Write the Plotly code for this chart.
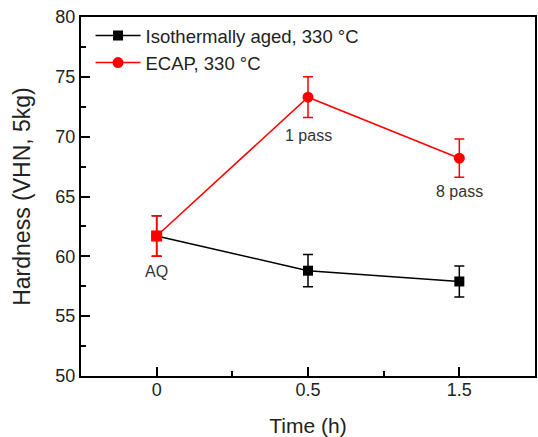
import plotly.graph_objects as go

time_labels = ["0", "0.5", "1.5"]
aged_hv = [61.7, 58.8, 57.9]
aged_err = [1.7, 1.35, 1.3]
ecap_hv = [61.7, 73.3, 68.2]
ecap_err = [1.7, 1.7, 1.6]
point_labels = ["AQ", "1 pass", "8 pass"]
label_shifts = [-36, -38, -33]

xpos = list(range(len(time_labels)))
RED = "#ff0000"
FONT = "Liberation Sans, Arial, sans-serif"

fig = go.Figure()
fig.add_trace(go.Scatter(
    x=xpos, y=aged_hv, mode="lines+markers", name="Isothermally aged, 330 °C",
    line=dict(color="black", width=1.5),
    marker=dict(symbol="square", size=10, color="black"),
    error_y=dict(type="data", array=aged_err, color="black", thickness=1.5, width=5),
))
fig.add_trace(go.Scatter(
    x=xpos, y=ecap_hv, mode="lines+markers", name="ECAP, 330 °C",
    line=dict(color=RED, width=1.5),
    marker=dict(symbol="circle", size=11, color=RED),
    error_y=dict(type="data", array=ecap_err, color=RED, thickness=1.5, width=5),
))
fig.add_trace(go.Scatter(
    x=xpos[:1], y=ecap_hv[:1], mode="markers", showlegend=False,
    marker=dict(symbol="square", size=11, color=RED),
))

for i, (t, s) in enumerate(zip(point_labels, label_shifts)):
    fig.add_annotation(x=xpos[i], y=ecap_hv[i], text=t, showarrow=False,
                       yshift=s, font=dict(size=16, color="#333333", family=FONT))

axis_common = dict(showline=True, linewidth=2, linecolor="black", mirror=True,
                   ticks="inside", ticklen=9, tickwidth=2, tickcolor="black",
                   showgrid=False, zeroline=False, ticklabeloverflow="allow",
                   tickfont=dict(size=18, color="#222222", family=FONT))

fig.update_xaxes(**axis_common, range=[-0.5, 2.5], tickmode="array",
                 tickvals=xpos, ticktext=time_labels, ticklabelstandoff=-4,
                 minor=dict(tickmode="array", tickvals=[0.5, 1.5], ticks="inside",
                            ticklen=5, tickwidth=2, tickcolor="black"),
                 title=dict(text="Time (h)", font=dict(size=21, color="#222222", family=FONT),
                            standoff=22))
fig.update_yaxes(**axis_common, range=[50, 80], dtick=5, tick0=50,
                 minor=dict(dtick=2.5, ticks="inside", ticklen=5, tickwidth=2,
                            tickcolor="black"),
                 title=dict(text="Hardness (VHN, 5kg)",
                            font=dict(size=23, color="#222222", family=FONT),
                            standoff=18))

fig.update_layout(
    width=538, height=437, autosize=False,
    margin=dict(l=81, r=1, t=17, b=61),
    plot_bgcolor="white", paper_bgcolor="white",
    font=dict(family=FONT),
    legend=dict(x=0.021, y=1.0, xanchor="left", yanchor="top", itemwidth=45,
                bgcolor="rgba(0,0,0,0)", font=dict(size=18.5, color="#222222", family=FONT)),
)

fig.write_html(
    "out.html",
    config={"responsive": False, "displayModeBar": False},
    post_script="document.body.style.margin='0';document.body.style.overflow='hidden';",
)
